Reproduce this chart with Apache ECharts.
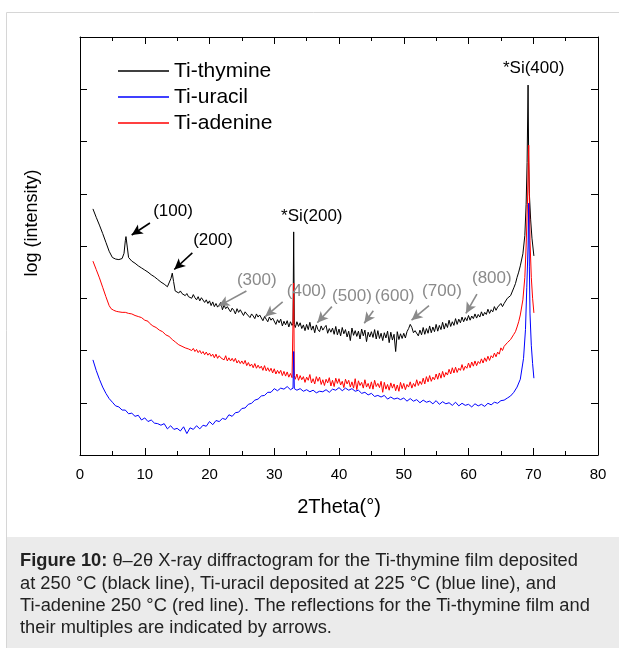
<!DOCTYPE html>
<html>
<head>
<meta charset="utf-8">
<script src="https://cdn.jsdelivr.net/npm/echarts@6/dist/echarts.min.js"></script>
<style>
html,body{margin:0;padding:0;background:#fff;}
#chart{width:619px;height:648px;}
</style>
</head>
<body>
<div id="chart"></div>
<script>
// ---- data (2Theta in degrees, log intensity in arbitrary units) ----
var xTicks = [0, 10, 20, 30, 40, 50, 60, 70, 80];

var thymine = [[2,4.71],[2.5,4.55],[3,4.40],[3.5,4.24],[4,4.07],[4.5,3.90],[5,3.78],[5.5,3.75],[6,3.74],[6.5,3.76],[6.8,3.86],[7,4.10],[7.1,4.18],[7.3,3.98],[7.5,3.78],[8,3.71],[8.5,3.67],[9,3.62],[9.5,3.58],[10,3.54],[10.5,3.50],[11,3.45],[11.5,3.41],[12,3.36],[12.5,3.31],[13,3.27],[13.5,3.22],[13.8,3.19],[14.05,3.38],[14.25,3.48],[14.45,3.32],[14.7,3.14],
[15,3.15],[15.25,3.10],[15.5,3.14],[15.75,3.09],[16,3.11],[16.25,3.05],[16.5,3.09],[16.75,3.03],[17,3.06],[17.25,3.00],[17.5,3.07],[17.75,3.01],[18,2.97],[18.25,3.03],[18.5,2.95],[18.75,3.01],[19,2.99],[19.25,2.92],[19.5,2.97],[19.75,2.90],
[20,2.95],[20.25,2.86],[20.5,2.93],[20.75,2.84],[21,2.90],[21.25,2.83],[21.5,2.85],[21.75,2.92],[22,2.78],[22.25,2.87],[22.5,2.80],[22.75,2.84],[23,2.83],[23.25,2.74],[23.5,2.81],[23.75,2.77],[24,2.70],[24.25,2.80],[24.5,2.73],[24.75,2.78],
[25,2.76],[25.25,2.67],[25.5,2.74],[25.75,2.70],[26,2.73],[26.25,2.63],[26.5,2.70],[26.75,2.66],[27,2.61],[27.25,2.70],[27.5,2.64],[27.75,2.68],[28,2.67],[28.25,2.57],[28.5,2.65],[28.75,2.60],[29,2.55],[29.25,2.64],[29.5,2.58],[29.75,2.62],
[30,2.62],[30.25,2.50],[30.5,2.59],[30.75,2.53],[31,2.60],[31.25,2.47],[31.5,2.56],[31.75,2.49],[32,2.57],[32.25,2.45],[32.5,2.55],[32.75,2.48],[32.9,2.52],[33.0,4.27],[33.1,2.50],[33.25,2.44],[33.5,2.55],[33.75,2.46],
[34,2.53],[34.25,2.42],[34.5,2.49],[34.75,2.38],[35,2.50],[35.25,2.40],[35.5,2.54],[35.75,2.39],[36,2.47],[36.25,2.34],[36.5,2.49],[36.75,2.40],[37,2.36],[37.25,2.47],[37.5,2.39],[37.75,2.44],[38,2.48],[38.25,2.33],[38.5,2.42],[38.75,2.35],[39,2.43],[39.25,2.31],[39.5,2.46],[39.75,2.30],
[40,2.41],[40.25,2.28],[40.5,2.44],[40.75,2.32],[41,2.40],[41.25,2.26],[41.5,2.37],[41.75,2.19],[42,2.43],[42.25,2.29],[42.5,2.38],[42.75,2.27],[43,2.37],[43.25,2.22],[43.5,2.41],[43.75,2.28],[44,2.39],[44.25,2.17],[44.5,2.35],[44.75,2.26],
[45,2.36],[45.25,2.25],[45.5,2.40],[45.75,2.22],[46,2.38],[46.25,2.23],[46.5,2.33],[46.75,2.19],[47,2.34],[47.25,2.24],[47.5,2.37],[47.75,2.15],[48,2.35],[48.25,2.20],[48.5,2.31],[48.75,1.98],[49,2.36],[49.25,2.21],[49.5,2.32],[49.75,2.23],
[50,2.33],[50.25,2.24],[50.5,2.36],[50.75,2.42],[51,2.50],[51.25,2.44],[51.5,2.34],[51.75,2.38],[52,2.40],[52.25,2.28],[52.5,2.39],[52.75,2.30],[53,2.44],[53.25,2.31],[53.5,2.42],[53.75,2.33],[54,2.47],[54.25,2.34],[54.5,2.45],[54.75,2.36],
[55,2.50],[55.25,2.37],[55.5,2.48],[55.75,2.40],[56,2.54],[56.25,2.41],[56.5,2.52],[56.75,2.44],[57,2.58],[57.25,2.46],[57.5,2.55],[57.75,2.48],[58,2.61],[58.25,2.50],[58.5,2.60],[58.75,2.53],[59,2.64],[59.25,2.55],[59.5,2.63],[59.75,2.57],
[60,2.67],[60.25,2.58],[60.5,2.66],[60.75,2.61],[61,2.70],[61.25,2.62],[61.5,2.69],[61.75,2.64],[62,2.74],[62.25,2.66],[62.5,2.73],[62.75,2.69],[63,2.79],[63.25,2.71],[63.5,2.78],[63.75,2.74],[64,2.84],[64.25,2.77],[64.5,2.83],[64.75,2.80],
[65,2.90],[65.25,2.84],[65.5,2.90],[65.75,2.88],[66,3.00],[66.25,2.98],[66.5,3.05],[66.75,3.07],[67,3.20],[67.25,3.28],[67.5,3.40],[67.75,3.50],[68,3.62],[68.4,3.85],[68.7,4.20],[68.9,4.80],[69.05,5.60],[69.2,7.08],[69.3,5.60],[69.4,5.00],[69.6,4.50],[69.8,4.15],[70.1,3.81]];

var adenine = [[2,3.71],[2.5,3.55],[3,3.39],[3.5,3.21],[4,3.03],[4.5,2.86],[4.8,2.80],[5.2,2.77],[5.6,2.75],[6,2.74],[6.5,2.73],[7,2.73],[7.5,2.71],[8,2.70],[8.5,2.67],
[9,2.65],[9.25,2.62],[9.5,2.63],[9.75,2.60],[10,2.58],[10.25,2.55],[10.5,2.56],[10.75,2.52],[11,2.50],[11.25,2.47],[11.5,2.48],[11.75,2.44],[12,2.43],[12.25,2.39],[12.5,2.41],[12.75,2.36],[13,2.34],[13.25,2.30],[13.5,2.32],[13.75,2.27],[14,2.25],[14.25,2.21],[14.5,2.22],[14.75,2.16],
[15,2.16],[15.25,2.11],[15.5,2.13],[15.75,2.08],[16,2.10],[16.25,2.05],[16.5,2.08],[16.75,2.03],[17,2.05],[17.25,2.00],[17.5,2.04],[17.75,1.98],[18,2.02],[18.25,1.96],[18.5,2.00],[18.75,1.94],[19,1.98],[19.25,1.92],[19.5,1.97],[19.75,1.91],
[20,1.95],[20.25,1.89],[20.5,1.93],[20.75,1.86],[21,1.93],[21.25,1.85],[21.5,1.90],[21.75,1.86],[22,1.89],[22.25,1.82],[22.5,1.90],[22.75,1.80],[23,1.86],[23.25,1.80],[23.5,1.85],[23.75,1.79],[24,1.85],[24.25,1.76],[24.5,1.81],[24.75,1.75],
[25,1.80],[25.25,1.74],[25.5,1.81],[25.75,1.71],[26,1.77],[26.25,1.70],[26.5,1.74],[26.75,1.67],[27,1.75],[27.25,1.66],[27.5,1.72],[27.75,1.66],[28,1.70],[28.25,1.62],[28.5,1.71],[28.75,1.61],[29,1.67],[29.25,1.60],[29.5,1.66],[29.75,1.57],
[30,1.65],[30.25,1.55],[30.5,1.62],[30.75,1.56],[31,1.62],[31.25,1.52],[31.5,1.60],[31.75,1.51],[32,1.59],[32.25,1.49],[32.5,1.56],[32.75,1.48],[32.9,1.50],[33.0,3.29],[33.1,1.52],[33.25,1.45],[33.5,1.55],[33.75,1.43],
[34,1.52],[34.25,1.44],[34.5,1.50],[34.75,1.39],[35,1.49],[35.25,1.43],[35.5,1.54],[35.75,1.38],[36,1.46],[36.25,1.36],[36.5,1.50],[36.75,1.41],[37,1.49],[37.25,1.35],[37.5,1.44],[37.75,1.33],[38,1.45],[38.25,1.38],[38.5,1.48],[38.75,1.32],[39,1.43],[39.25,1.31],[39.5,1.47],[39.75,1.37],
[40,1.46],[40.25,1.34],[40.5,1.41],[40.75,1.29],[41,1.45],[41.25,1.36],[41.5,1.43],[41.75,1.30],[42,1.40],[42.25,1.28],[42.5,1.46],[42.75,1.25],[43,1.42],[43.25,1.33],[43.5,1.39],[43.75,1.28],[44,1.44],[44.25,1.30],[44.5,1.37],[44.75,1.27],
[45,1.40],[45.25,1.26],[45.5,1.43],[45.75,1.31],[46,1.37],[46.25,1.29],[46.5,1.41],[46.75,1.20],[47,1.39],[47.25,1.26],[47.5,1.35],[47.75,1.24],[48,1.38],[48.25,1.28],[48.5,1.36],[48.75,1.23],[49,1.34],[49.25,1.22],[49.5,1.39],[49.75,1.27],
[50,1.37],[50.25,1.25],[50.5,1.35],[50.75,1.30],[51,1.40],[51.25,1.28],[51.5,1.37],[51.75,1.31],[52,1.44],[52.25,1.33],[52.5,1.41],[52.75,1.35],[53,1.47],[53.25,1.36],[53.5,1.50],[53.75,1.40],[54,1.52],[54.25,1.41],[54.5,1.49],[54.75,1.44],
[55,1.55],[55.25,1.45],[55.5,1.57],[55.75,1.47],[56,1.60],[56.25,1.49],[56.5,1.58],[56.75,1.53],[57,1.64],[57.25,1.55],[57.5,1.67],[57.75,1.57],[58,1.68],[58.25,1.58],[58.5,1.66],[58.75,1.62],[59,1.73],[59.25,1.62],[59.5,1.70],[59.75,1.66],
[60,1.76],[60.25,1.67],[60.5,1.78],[60.75,1.70],[61,1.80],[61.25,1.71],[61.5,1.79],[61.75,1.75],[62,1.84],[62.25,1.76],[62.5,1.86],[62.75,1.79],[63,1.89],[63.25,1.81],[63.5,1.90],[63.75,1.86],[64,1.95],[64.25,1.88],[64.5,1.97],[64.75,1.93],
[65,2.05],[65.25,2.00],[65.5,2.08],[65.75,2.07],[66,2.15],[66.25,2.14],[66.5,2.21],[66.75,2.22],[67,2.31],[67.25,2.36],[67.5,2.45],[67.75,2.55],[68,2.68],[68.4,2.97],[68.7,3.40],[68.9,4.00],[69.1,4.80],[69.3,5.93],[69.4,4.90],[69.5,4.10],[69.7,3.40],[69.9,3.00],[70.1,2.72]];

var uracil = [[2,1.82],[2.5,1.62],[3,1.45],[3.5,1.30],[4,1.18],[4.5,1.08],[5,1.01],[5.5,0.94],[6,0.92],[6.5,0.86],[7,0.86],[7.5,0.79],[8,0.80],[8.5,0.74],[9,0.76],[9.5,0.67],[10,0.71],[10.5,0.64],[11,0.67],[11.5,0.61],[12,0.60],[12.5,0.57],[13,0.60],[13.5,0.50],[14,0.56],[14.5,0.49],[15,0.51],[15.5,0.46],[16,0.54],[16.5,0.41],[17,0.52],[17.5,0.49],[18,0.56],[18.5,0.50],[19,0.57],[19.5,0.55],[20,0.64],[20.5,0.58],[21,0.66],[21.5,0.64],[22,0.70],[22.5,0.68],[23,0.77],[23.5,0.74],[24,0.81],[24.5,0.82],[25,0.89],[25.5,0.90],[26,0.97],[26.5,0.99],[27,1.05],[27.5,1.07],[28,1.13],[28.5,1.14],[29,1.20],[29.5,1.20],[30,1.27],[30.5,1.23],[31,1.28],[31.5,1.26],[32,1.31],[32.5,1.25],[32.9,1.28],[33.0,1.98],[33.1,1.27],[33.5,1.24],[34,1.27],[34.5,1.22],[35,1.25],[35.5,1.21],[36,1.24],[36.5,1.19],[37,1.22],[37.5,1.21],[38,1.25],[38.5,1.20],[39,1.26],[39.5,1.24],[40,1.29],[40.5,1.23],[41,1.28],[41.5,1.24],[42,1.27],[42.5,1.22],[43,1.24],[43.5,1.18],[44,1.20],[44.5,1.15],[45,1.18],[45.5,1.12],[46,1.14],[46.5,1.11],[47,1.14],[47.5,1.07],[48,1.11],[48.5,1.07],[49,1.09],[49.5,1.06],[50,1.09],[50.5,1.03],[51,1.08],[51.5,1.03],[52,1.06],[52.5,1.00],[53,1.05],[53.5,1.01],[54,1.03],[54.5,0.98],[55,1.04],[55.5,0.97],[56,1.02],[56.5,0.98],[57,1.00],[57.5,0.95],[58,1.01],[58.5,0.94],[59,0.99],[59.5,0.95],[60,0.97],[60.5,0.92],[61,0.98],[61.5,0.94],[62,0.97],[62.5,0.93],[63,0.99],[63.5,0.96],[64,1.01],[64.5,0.99],[65,1.04],[65.5,1.05],[66,1.09],[66.5,1.13],[67,1.20],[67.5,1.30],[68,1.45],[68.5,1.85],[68.8,2.40],[69.0,3.20],[69.2,4.00],[69.3,4.82],[69.4,3.60],[69.5,2.70],[69.7,2.10],[69.9,1.75],[70.1,1.47]];

// reflection labels: [text, x, y]
var blackLabels = [['(100)', 14.36, 4.66], ['(200)', 20.54, 4.10], ['*Si(200)', 35.8, 4.56], ['*Si(400)', 70.06, 7.40]];
var grayLabels = [['(300)', 27.3, 3.35], ['(400)', 35.0, 3.14], ['(500)', 42.0, 3.03], ['(600)', 48.6, 3.03], ['(700)', 55.9, 3.14], ['(800)', 63.6, 3.38]];
// arrows: [fromX, fromY, toX, toY]
var blackArrows = [[10.8, 4.44, 7.98, 4.21], [17.35, 3.87, 14.56, 3.55]];
var grayArrows = [[25.7, 3.14, 21.4, 2.85], [31.3, 2.93, 28.6, 2.65], [38.9, 2.84, 36.65, 2.53], [45.3, 2.76, 43.9, 2.52], [53.9, 2.86, 51.2, 2.58], [61.3, 3.08, 59.6, 2.71]];

var captionText = '{b|Figure 10:} θ–2θ X-ray diffractogram for the Ti-thymine film deposited\nat 250 °C (black line), Ti-uracil deposited at 225 °C (blue line), and\nTi-adenine 250 °C (red line). The reflections for the Ti-thymine film and\ntheir multiples are indicated by arrows.';

// ---- chart ----
var FONT = '"Liberation Sans", Arial, Helvetica, sans-serif';
var GRAY = '#8a8a8a';

function arrowLines(list, color) {
  return list.map(function (a) {
    return [{coord: [a[0], a[1]], lineStyle: {color: color}}, {coord: [a[2], a[3]]}];
  });
}
function labelPoints(list, color) {
  return list.map(function (l) {
    return {name: l[0], coord: [l[1], l[2]], label: {color: color}};
  });
}

var chart = echarts.init(document.getElementById('chart'), null, {renderer: 'canvas'});
var axisCommon = {
  axisLine: {show: true, onZero: false, lineStyle: {color: '#000', width: 1}},
  splitLine: {show: false}
};
chart.setOption({
  animation: false,
  backgroundColor: '#fff',
  textStyle: {fontFamily: FONT},
  grid: {left: 80, right: 21, top: 37, bottom: 193, containLabel: false},
  legend: {
    data: ['Ti-thymine', 'Ti-uracil', 'Ti-adenine'],
    orient: 'vertical', left: 118, top: 60, padding: 0,
    icon: 'rect', itemWidth: 51, itemHeight: 1.5, itemGap: 4,
    textStyle: {fontSize: 21, lineHeight: 22, color: '#000', fontFamily: FONT},
    selectedMode: false
  },
  xAxis: [
    Object.assign({
      type: 'value', position: 'bottom', min: 0, max: 80, interval: 10,
      name: '2Theta(°)', nameLocation: 'middle', nameGap: 42,
      nameTextStyle: {fontSize: 20, color: '#000', fontFamily: FONT},
      axisTick: {show: true, inside: true, length: 7, lineStyle: {color: '#000'}},
      minorTick: {show: true, splitNumber: 2, length: 4, lineStyle: {color: '#000'}},
      axisLabel: {show: true, margin: 12, fontSize: 15, color: '#000', fontFamily: FONT,
        formatter: function (v) { return xTicks.indexOf(v) >= 0 ? String(v) : ''; }}
    }, axisCommon),
    Object.assign({
      type: 'value', position: 'top', min: 0, max: 80, interval: 10,
      axisTick: {show: true, inside: true, length: 7, lineStyle: {color: '#000'}},
      minorTick: {show: true, splitNumber: 2, length: 4, lineStyle: {color: '#000'}},
      axisLabel: {show: false}
    }, axisCommon)
  ],
  yAxis: [
    Object.assign({
      type: 'value', position: 'left', min: 0, max: 8, interval: 1,
      name: 'log (intensity)', nameLocation: 'middle', nameGap: 39,
      nameTextStyle: {fontSize: 18, color: '#000', fontFamily: FONT, padding: [0, 0, 0, 46]},
      axisTick: {show: true, inside: true, length: 7, lineStyle: {color: '#000'}},
      axisLabel: {show: false}
    }, axisCommon),
    Object.assign({
      type: 'value', position: 'right', min: 0, max: 8, interval: 1,
      axisTick: {show: true, inside: true, length: 7, lineStyle: {color: '#000'}},
      axisLabel: {show: false}
    }, axisCommon)
  ],
  series: [
    {
      name: 'Ti-thymine', type: 'line', data: thymine, symbol: 'none', silent: true,
      lineStyle: {color: '#000', width: 1}, itemStyle: {color: '#000'}, z: 2,
      markLine: {
        silent: true, symbol: ['none', 'arrow'], symbolSize: [8, 11],
        label: {show: false}, lineStyle: {type: 'solid', width: 1.6, color: '#000'},
        data: arrowLines(blackArrows, '#000').concat(arrowLines(grayArrows, GRAY))
      },
      markPoint: {
        silent: true, symbol: 'circle', symbolSize: 0,
        label: {show: true, position: 'inside', fontSize: 17, fontFamily: FONT, formatter: '{b}'},
        data: labelPoints(blackLabels, '#000').concat(labelPoints(grayLabels, GRAY))
      }
    },
    {
      name: 'Ti-adenine', type: 'line', data: adenine, symbol: 'none', silent: true,
      lineStyle: {color: '#ff0000', width: 1}, itemStyle: {color: '#ff0000'}, z: 3
    },
    {
      name: 'Ti-uracil', type: 'line', data: uracil, symbol: 'none', silent: true,
      lineStyle: {color: '#0000ff', width: 1}, itemStyle: {color: '#0000ff'}, z: 4
    }
  ],
  graphic: [
    {type: 'rect', silent: true, z: -10,
      shape: {x: 6.5, y: 12.5, width: 700, height: 700},
      style: {fill: null, stroke: '#d6d6d6', lineWidth: 1}},
    {type: 'rect', silent: true, z: -9,
      shape: {x: 7, y: 537, width: 612, height: 111},
      style: {fill: '#ebebeb'}},
    {type: 'text', silent: true, z: 10, left: 20, top: 550,
      style: {text: captionText, fill: '#222', font: '18.3px ' + FONT, lineHeight: 22.4,
        rich: {b: {fontWeight: 'bold', fontSize: 18.3, fontFamily: FONT, fill: '#222', lineHeight: 22.4}}}}
  ]
});
</script>
</body>
</html>
